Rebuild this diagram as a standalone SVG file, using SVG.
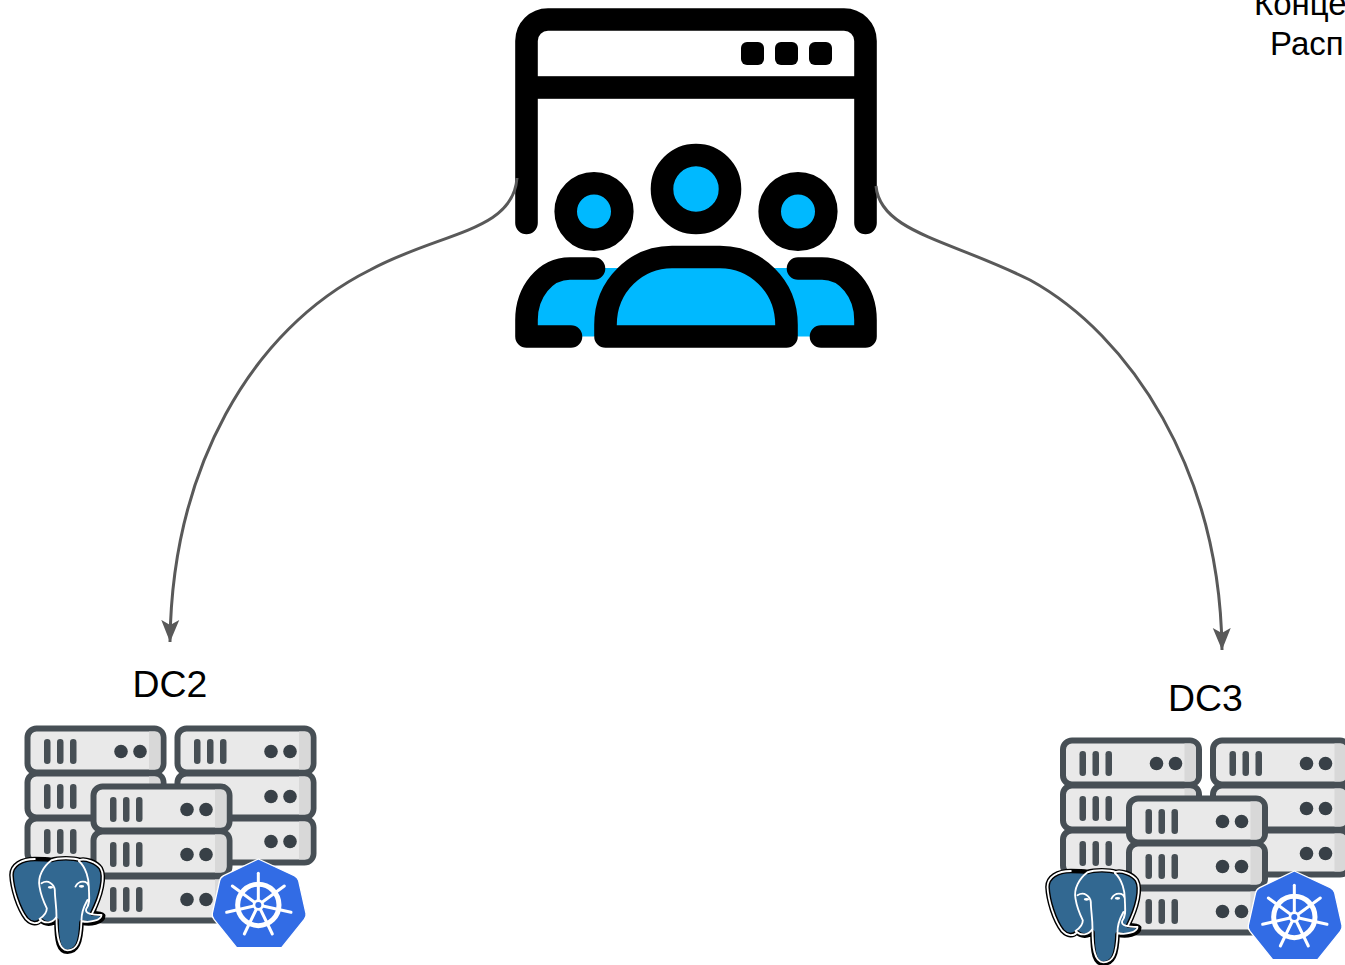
<svg xmlns="http://www.w3.org/2000/svg" xmlns:xlink="http://www.w3.org/1999/xlink" width="1345" height="965" viewBox="0 0 1345 965">
<style>
.t{font-family:"Liberation Sans",Arial,sans-serif;fill:#000}
.lbl{font-size:37.400px;text-anchor:middle}
.top{font-size:33px}
.k{fill:none;stroke:#000;stroke-width:22.6;stroke-linecap:round;stroke-linejoin:round}
.b{fill:#00b9ff}
.conn{fill:none;stroke:#595959;stroke-width:3}
.w{fill:none;stroke:#fff;stroke-width:5.500;stroke-linecap:round;stroke-linejoin:round}
.soft{filter:url(#soft)}
</style>
<defs>
<filter id="soft" x="-5%" y="-5%" width="110%" height="110%"><feGaussianBlur stdDeviation="0.6"/></filter>
<marker id="arr" markerUnits="userSpaceOnUse" markerWidth="24" markerHeight="30" refX="22" refY="10" orient="auto">
<path d="M22 10 L0 1 L5 10 L0 19Z" fill="#595959"/>
</marker>
<g id="unit">
<rect x="2.500" y="2.500" width="136" height="44" rx="9" fill="#e9e9e9" stroke="#464f54" stroke-width="6"/>
<path d="M124 5.500H130Q135.500 5.500 135.500 11V38Q135.500 43.500 130 43.500H124Z" fill="#d8d8d8"/>
<rect x="19" y="13" width="6.500" height="25" rx="3.200" fill="#464f54"/>
<rect x="32" y="13" width="6.500" height="25" rx="3.200" fill="#464f54"/>
<rect x="45" y="13" width="6.500" height="25" rx="3.200" fill="#464f54"/>
<circle cx="96" cy="25.500" r="6.800" fill="#394146"/>
<circle cx="115" cy="25.500" r="6.800" fill="#394146"/>
</g>
<g id="stack">
<use href="#unit" x="0" y="90"/>
<use href="#unit" x="0" y="45"/>
<use href="#unit" x="0" y="0"/>
</g>
<g id="pg" transform="translate(1.500 845) scale(.3333)">
<path d="M100 42C60 42 30 60 30 90C32 130 50 190 75 222C90 238 108 238 118 226C130 240 155 238 165 226C165 290 172 320 198 320C226 320 238 295 240 232C265 240 305 232 305 212C300 205 285 205 272 205C300 150 312 95 298 70C285 50 250 40 235 45C215 38 170 38 150 45C135 42 115 42 100 42Z" fill="#336791" stroke="#000" stroke-width="14" stroke-linejoin="round"/>
<path class="w" d="M100 42C60 42 30 60 30 90C32 130 50 190 75 222C90 238 108 238 118 226M150 46C125 65 108 95 114 125C118 150 126 170 136 190C136 205 125 215 114 222C130 238 155 235 165 215M150 46C170 38 215 38 235 45M120 115C140 102 158 118 160 135C160 160 165 180 165 215C165 270 170 316 198 316C225 316 238 295 240 225C240 195 250 180 258 165M222 125C232 105 258 105 262 125C262 150 268 175 254 192C250 206 270 210 300 210C300 225 265 235 240 228M232 48C255 68 262 105 262 125M235 45C250 40 285 50 298 70C312 95 300 150 272 205"/>
<ellipse cx="147" cy="127" rx="8" ry="4" fill="#fff"/>
<ellipse cx="240" cy="124" rx="8" ry="4" fill="#fff"/>
</g>
<g id="k8s" transform="translate(205 850) scale(.3333)">
<path d="M160 27L268 77Q278 82 281 92L303 190Q305 200 298 208L230 293H95L27 208Q20 200 22 190L44 92Q46 82 56 77Z" fill="#326ce5" stroke="#fff" stroke-width="4" stroke-linejoin="round"/>
<circle cx="160" cy="165" r="62" fill="none" stroke="#fff" stroke-width="15"/>
<g stroke="#fff" stroke-width="9" stroke-linecap="round">
<line x1="160" y1="165" x2="160" y2="70"/>
<line x1="160" y1="165" x2="238" y2="108"/>
<line x1="160" y1="165" x2="258" y2="187"/>
<line x1="160" y1="165" x2="202" y2="252"/>
<line x1="160" y1="165" x2="118" y2="252"/>
<line x1="160" y1="165" x2="65" y2="187"/>
<line x1="160" y1="165" x2="82" y2="108"/>
</g>
<circle cx="160" cy="165" r="17" fill="#fff"/>
<circle cx="160" cy="165" r="9" fill="#326ce5"/>
</g>
</defs>
<rect width="1345" height="965" fill="#fff"/>

<g id="users-app">
<rect class="b" x="590" y="268" width="212" height="68"/>
<path class="b" d="M594 268.500H570C545 268.500 526.500 292 526.500 320V336.500H594Z"/>
<path class="b" d="M798 268.500H822C847 268.500 865.500 292 865.500 320V336.500H798Z"/>
<path class="k" d="M526.500 223V41C526.500 29 536 19.500 548 19.500H844C856 19.500 865.500 29 865.500 41V223"/>
<rect x="526" y="76.200" width="340" height="22.600"/>
<rect x="741" y="42" width="23" height="23" rx="6"/>
<rect x="775" y="42" width="23" height="23" rx="6"/>
<rect x="809" y="42" width="23" height="23" rx="6"/>
<circle class="k" cx="696" cy="189" r="34" style="fill:#00b9ff"/>
<circle class="k" cx="594" cy="211.500" r="28.300" style="fill:#00b9ff"/>
<circle class="k" cx="798" cy="211.500" r="28.300" style="fill:#00b9ff"/>
<path class="k" d="M594 268.500H570C545 268.500 526.500 292 526.500 320V336.500H571"/>
<path class="k" d="M798 268.500H822C847 268.500 865.500 292 865.500 320V336.500H821"/>
<path class="k" style="fill:#00b9ff" d="M605.500 336.500H786.500V325C786.500 285 755 257 720 257H672C637 257 605.500 285 605.500 325Z"/>
</g>

<g id="connectors">
<path class="conn" marker-end="url(#arr)" d="M517 178C513 232 440 232 370 270C250 330 172 470 170 642"/>
<path class="conn" marker-end="url(#arr)" d="M876 186C880 232 950 240 1030 280C1130 335 1220 470 1222 650"/>
</g>

<g id="top-title">
<text class="t top" x="1254" y="15">Конце</text>
<text class="t top" x="1270" y="55">Распр</text>
</g>

<g id="dc2">
<text class="t lbl" x="170" y="697">DC2</text>
<g class="soft">
<use href="#stack" x="25" y="726"/>
<use href="#stack" x="175" y="726"/>
<use href="#stack" x="91" y="784"/>
<use href="#pg"/>
<use href="#k8s"/>
</g>
</g>

<g id="dc3">
<text class="t lbl" x="1205.500" y="711">DC3</text>
<g class="soft">
<use href="#stack" x="1060.500" y="738"/>
<use href="#stack" x="1210.500" y="738"/>
<use href="#stack" x="1126.500" y="796"/>
<use href="#pg" x="1036" y="12"/>
<use href="#k8s" x="1036" y="12"/>
</g>
</g>
</svg>
